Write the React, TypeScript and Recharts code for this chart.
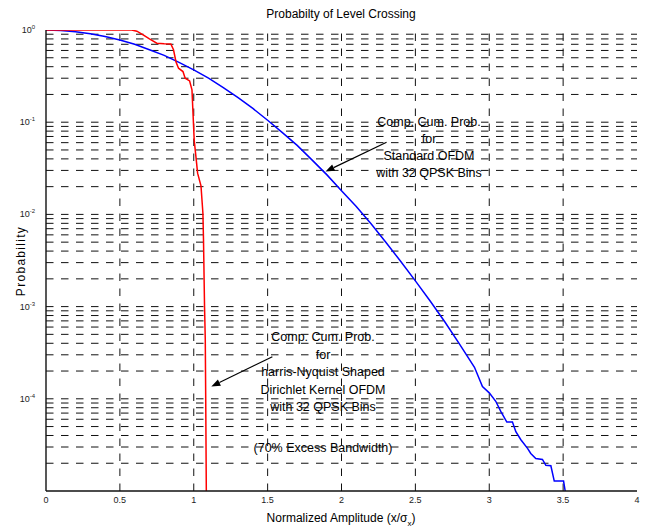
import React from 'react';
import { LineChart, Line, XAxis, YAxis, ReferenceLine } from 'recharts';

// standard OFDM, complementary cumulative probability
const stdX = [0, 0.1, 0.2, 0.3, 0.4, 0.5, 0.6, 0.7, 0.8, 0.9, 1.0, 1.1, 1.2, 1.3, 1.4, 1.5, 1.6, 1.7, 1.8, 1.9, 2.0, 2.1, 2.2, 2.3, 2.4, 2.5, 2.6, 2.7, 2.8, 2.9, 2.954, 3.0, 3.044, 3.078, 3.119, 3.157, 3.18, 3.214, 3.259, 3.281, 3.315, 3.36, 3.383, 3.417, 3.44, 3.503, 3.514];
const stdP = [1.0, 0.99, 0.96, 0.91, 0.85, 0.78, 0.7, 0.61, 0.53, 0.445, 0.37, 0.3, 0.237, 0.185, 0.141, 0.105, 0.077, 0.056, 0.039, 0.027, 0.018, 0.0122, 0.0079, 0.005, 0.0031, 0.0019, 0.00115, 0.00068, 0.00039, 0.00022, 1.36e-4, 1.16e-4, 9.4e-5, 7.3e-5, 5.6e-5, 5.6e-5, 4.4e-5, 3.6e-5, 2.9e-5, 2.55e-5, 2.25e-5, 2.2e-5, 1.9e-5, 1.88e-5, 1.28e-5, 1.28e-5, 1e-5];

// harris-Nyquist shaped Dirichlet kernel OFDM
const hnX = [0, 0.3, 0.58, 0.615, 0.66, 0.7, 0.75, 0.8, 0.845, 0.863, 0.88, 0.897, 0.927, 0.942, 0.972, 0.988, 0.994, 1.003, 1.017, 1.026, 1.049, 1.062, 1.066, 1.073, 1.078, 1.081, 1.085];
const hnP = [1.0, 1.0, 1.0, 0.97, 0.88, 0.8, 0.72, 0.71, 0.705, 0.61, 0.45, 0.385, 0.354, 0.3, 0.28, 0.224, 0.136, 0.064, 0.039, 0.028, 0.0204, 0.0103, 0.0053, 0.001, 4.4e-4, 1e-4, 1e-5];

const xTicks = [0, 0.5, 1, 1.5, 2, 2.5, 3, 3.5, 4];
const xGrid = [0.5, 1, 1.5, 2, 2.5, 3, 3.5];
const decades = [1e-5, 1e-4, 1e-3, 1e-2, 1e-1, 1];
const minorGrid = [2, 3, 4, 5, 6, 7, 8, 9];

const noteStd = ['Comp. Cum. Prob.', 'for', 'Standard OFDM', 'with 32 QPSK Bins'];
const noteHn = ['Comp. Cum. Prob.', 'for', 'harris-Nyquist Shaped', 'Dirichlet Kernel OFDM', 'with 32 QPSK Bins'];
const noteBw = '(70% Excess Bandwidth)';

const stdData = stdX.map((x, i) => ({ x, p: stdP[i] }));
const hnData = hnX.map((x, i) => ({ x, p: hnP[i] }));
const hGrid = decades.slice(0, -1).flatMap(d => [d, ...minorGrid.map(m => m * d)]).filter(v => v > 1e-5);

const FONT = '"Liberation Sans", Arial, sans-serif';
const GRID = { stroke: '#111', strokeDasharray: '7.5 7.5', strokeWidth: 1 };

const DecadeTick = ({ x, y, payload }: any) => {
  const exp = Math.round(Math.log10(payload.value));
  if (exp === -5) return null;
  return (
    <text x={x - 3} y={y + 3} textAnchor="end" fontSize={9} fill="#222" fontFamily={FONT}>
      10<tspan dy={-4} fontSize={6}>{exp}</tspan>
    </text>
  );
};

const Arrow = (props: any) => {
  const { x1, y1, x2, y2 } = props;
  const ang = Math.atan2(y2 - y1, x2 - x1);
  const len = 9, w = 3.5;
  const bx = x2 - len * Math.cos(ang), by = y2 - len * Math.sin(ang);
  const px = -Math.sin(ang) * w, py = Math.cos(ang) * w;
  return (
    <g>
      <line x1={x1} y1={y1} x2={bx} y2={by} stroke="#000" strokeWidth={1.2} />
      <polygon points={`${x2},${y2} ${bx + px},${by + py} ${bx - px},${by - py}`} fill="#000" />
    </g>
  );
};

const Texts = () => (
  <g fontFamily={FONT} fill="#000">
    <text x={341} y={18} textAnchor="middle" fontSize={12}>Probabilty of Level Crossing</text>
    <text x={341} y={522} textAnchor="middle" fontSize={12}>
      Normalized Amplitude (x/σ<tspan dy={4} fontSize={8}>x</tspan><tspan dy={-4}>)</tspan>
    </text>
    <text x={25} y={261} textAnchor="middle" fontSize={12} letterSpacing={1.3} transform="rotate(-90 25 261)">Probability</text>
    {noteStd.map((t, i) => (
      <text key={'a' + i} x={429} y={126 + i * 17} textAnchor="middle" fontSize={12.5}>{t}</text>
    ))}
    {noteHn.map((t, i) => (
      <text key={'b' + i} x={323} y={341 + i * 17.5} textAnchor="middle" fontSize={12.5}>{t}</text>
    ))}
    <text x={323} y={452} textAnchor="middle" fontSize={12.5}>{noteBw}</text>
  </g>
);

export default function App() {
  return (
    <div style={{ position: 'absolute', left: 0, top: 0, background: '#fff' }}>
      <LineChart width={645} height={527} margin={{ top: 30, right: 8, bottom: 0, left: 0 }}>
        <XAxis
          dataKey="x"
          type="number"
          domain={[0, 4]}
          ticks={xTicks}
          allowDuplicatedCategory={false}
          height={36}
          tickLine={false}
          tickMargin={0}
          axisLine={{ stroke: '#111', strokeWidth: 1.6 }}
          tick={{ fontSize: 9, fill: '#222', fontFamily: FONT }}
        />
        <XAxis xAxisId="top" orientation="top" type="number" domain={[0, 4]} height={0} tick={false} tickLine={false} axisLine={{ stroke: '#111', strokeWidth: 1.4 }} />
        <YAxis
          dataKey="p"
          scale="log"
          domain={[1e-5, 1]}
          allowDataOverflow
          ticks={decades}
          width={46}
          tickLine={false}
          axisLine={{ stroke: '#111', strokeWidth: 1.4 }}
          tick={<DecadeTick />}
        />
        <YAxis yAxisId="right" orientation="right" width={0} tick={false} tickLine={false} axisLine={{ stroke: '#111', strokeWidth: 1.4 }} />
        {hGrid.map(v => (
          <ReferenceLine key={'h' + v} y={v} {...GRID} />
        ))}
        {xGrid.map(v => (
          <ReferenceLine key={'v' + v} x={v} {...GRID} />
        ))}
        <ReferenceLine segment={[{ x: 2.305, y: 0.0607 }, { x: 1.892, y: 0.0292 }]} shape={<Arrow />} />
        <ReferenceLine segment={[{ x: 1.532, y: 2.86e-4 }, { x: 1.119, y: 1.36e-4 }]} shape={<Arrow />} />
        <Line data={stdData} dataKey="p" stroke="#0000ff" strokeWidth={1.5} dot={false} isAnimationActive={false} type="linear" />
        <Line data={hnData} dataKey="p" stroke="#ff0000" strokeWidth={1.5} dot={false} isAnimationActive={false} type="linear" />
        <Texts />
      </LineChart>
    </div>
  );
}
